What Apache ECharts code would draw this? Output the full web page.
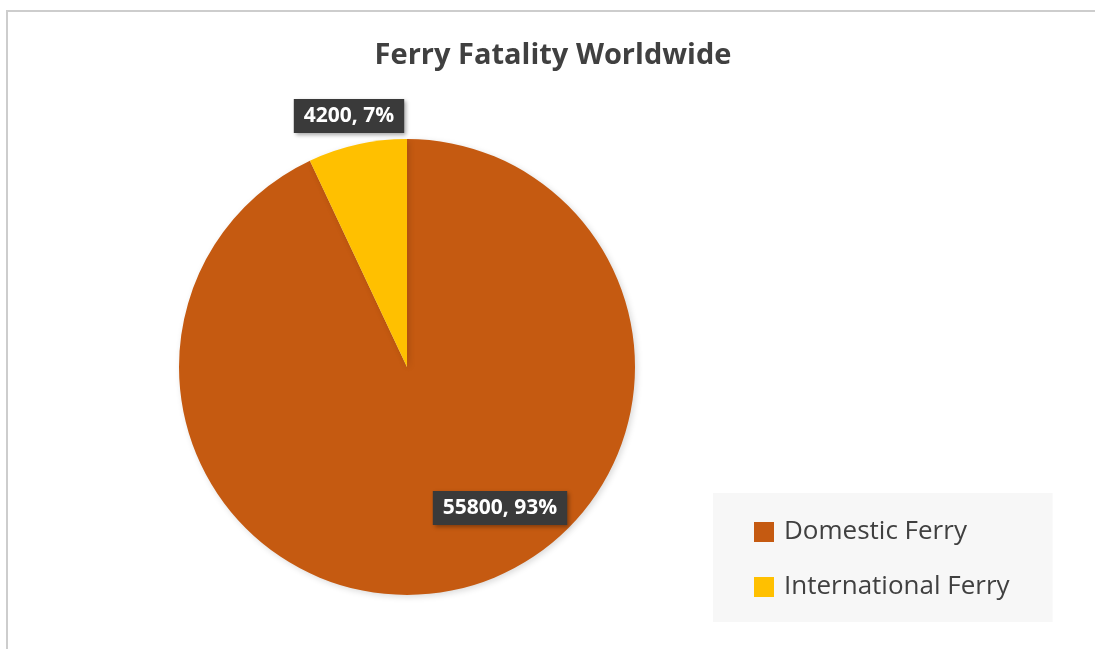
<!DOCTYPE html>
<html lang="en">
<head>
    <meta charset="UTF-8">
    <title>Ferry Fatality Worldwide</title>
    <script src="https://cdn.jsdelivr.net/npm/echarts@6.0.0/dist/echarts.min.js"></script>
    <style>
        body { margin: 0; background: #fff; }
        #frame {
            position: absolute; left: 6px; top: 10px; width: 1100px; height: 700px;
            border-left: 2px solid #cdcdcd; border-top: 2px solid #cdcdcd;
        }
        #main { position: absolute; left: 0; top: 0; width: 1095px; height: 649px; }
    </style>
</head>
<body>
    <div id="frame"></div>
    <div id="main"></div>

    <script>
        // chart data
        var categories = ['Domestic Ferry', 'International Ferry'];
        var fatalities = [55800, 4200];
        var colors = ['#C55A11', '#FFC000'];

        var myChart = echarts.init(document.getElementById('main'));

        // label placement (Excel "best fit" puts them off the mid-angle)
        var labelSpots = [
            { x: 500, y: 508 },
            { x: 349, y: 116 }
        ];

        var option = {
            animation: false,
            title: {
                text: 'Ferry Fatality Worldwide',
                left: 548,
                textAlign: 'center',
                top: 36,
                textStyle: {
                    fontFamily: 'Open Sans',
                    fontWeight: 'bold',
                    fontSize: 29,
                    color: '#404040'
                }
            },
            legend: {
                orient: 'vertical',
                left: 713,
                top: 493,
                backgroundColor: '#f7f7f7',
                padding: [24, 43, 20, 41],
                itemWidth: 20,
                itemHeight: 20,
                itemGap: 25,
                icon: 'rect',
                textStyle: {
                    fontFamily: 'Open Sans',
                    fontSize: 26,
                    lineHeight: 30,
                    color: '#404040',
                    padding: [0, 0, 0, 5]
                },
                data: categories
            },
            series: [
                {
                    name: 'Fatalities',
                    type: 'pie',
                    center: [407, 367],
                    radius: 228,
                    startAngle: 90,
                    clockwise: true,
                    itemStyle: {
                        shadowBlur: 6,
                        shadowOffsetX: 2,
                        shadowOffsetY: 2,
                        shadowColor: 'rgba(0,0,0,0.15)'
                    },
                    label: {
                        show: true,
                        position: 'inside',
                        formatter: function (p) {
                            return p.value + ', ' + Math.round(p.percent) + '%';
                        },
                        fontFamily: 'Open Sans',
                        fontWeight: 'bold',
                        fontSize: 21,
                        color: '#ffffff',
                        backgroundColor: '#3a3a3a',
                        padding: [7, 10, 6, 10],
                        shadowBlur: 4,
                        shadowOffsetX: 2,
                        shadowOffsetY: 2,
                        shadowColor: 'rgba(0,0,0,0.35)'
                    },
                    labelLine: { show: false },
                    labelLayout: function (params) {
                        var spot = labelSpots[params.dataIndex];
                        return { x: spot.x, y: spot.y, align: 'center', verticalAlign: 'middle' };
                    },
                    data: categories.map(function (name, i) {
                        return { name: name, value: fatalities[i], itemStyle: { color: colors[i] } };
                    })
                }
            ]
        };

        myChart.setOption(option);
    </script>
</body>
</html>
